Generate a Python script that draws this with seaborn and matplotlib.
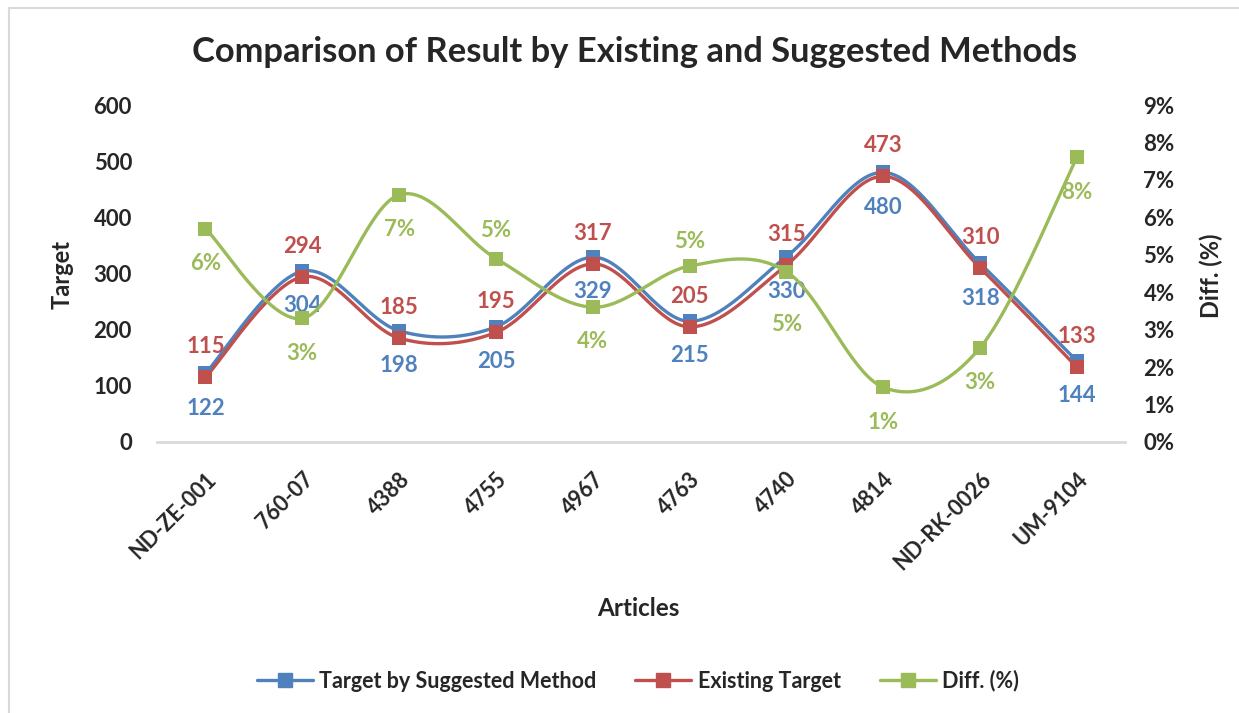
import numpy as np
import pandas as pd
import matplotlib
matplotlib.use("Agg")
import matplotlib.pyplot as plt
import seaborn as sns
from matplotlib.lines import Line2D
from matplotlib.patches import Rectangle

# data
articles = ["ND-ZE-001", "760-07", "4388", "4755", "4967", "4763", "4740", "4814", "ND-RK-0026", "UM-9104"]
suggested = [122, 304, 198, 205, 329, 215, 330, 480, 318, 144]
existing = [115, 294, 185, 195, 317, 205, 315, 473, 310, 133]
diff_pct = [5.7, 3.3, 6.6, 4.9, 3.6, 4.7, 4.55, 1.46, 2.52, 7.6]

BLUE, RED, GREEN = "#4F81BD", "#C0504D", "#9BBB59"

sns.set_style("white")
plt.rcParams["font.family"] = ["Lato", "DejaVu Sans"]
plt.rcParams["font.weight"] = "bold"


def smooth(x, y, n=40):
    """Excel-like smoothed line (Catmull-Rom as cubic Bezier)."""
    p = np.column_stack([x, y]).astype(float)
    out = []
    for i in range(len(p) - 1):
        p0 = p[i - 1] if i > 0 else p[i]
        p1, p2 = p[i], p[i + 1]
        p3 = p[i + 2] if i + 2 < len(p) else p[i + 1]
        c1 = p1 + (p2 - p0) / 6
        c2 = p2 - (p3 - p1) / 6
        t = np.linspace(0, 1, n)[:, None]
        seg = ((1 - t) ** 3) * p1 + 3 * ((1 - t) ** 2) * t * c1 + 3 * (1 - t) * t ** 2 * c2 + t ** 3 * p2
        out.append(seg if i == 0 else seg[1:])
    s = np.vstack(out)
    return s[:, 0], s[:, 1]


df = pd.DataFrame({"pos": np.arange(len(articles)), "article": articles,
                   "suggested": suggested, "existing": existing, "diff": diff_pct})

fig = plt.figure(figsize=(12.39, 7.13), dpi=100)
ax = fig.add_axes([157 / 1239, 1 - 442 / 713, (1125.4 - 157) / 1239, (442 - 105) / 713])
ax2 = ax.twinx()

lw, ms = 2.4, 9.5
for col, color in [("suggested", BLUE), ("existing", RED)]:
    sx, sy = smooth(df["pos"], df[col])
    sns.lineplot(x=sx, y=sy, ax=ax, color=color, lw=lw, sort=False, estimator=None)
    sns.scatterplot(data=df, x="pos", y=col, ax=ax, color=color, marker="s", s=ms ** 2,
                    edgecolor=color, linewidth=0, zorder=3)

sx, sy = smooth(df["pos"], df["diff"])
sns.lineplot(x=sx, y=sy, ax=ax2, color=GREEN, lw=lw, sort=False, estimator=None)
sns.scatterplot(data=df, x="pos", y="diff", ax=ax2, color=GREEN, marker="s", s=ms ** 2,
                edgecolor=GREEN, linewidth=0, zorder=3)

# data labels
lab_fs = 16
for i, r in df.iterrows():
    ax.annotate(f"{r['suggested']}", (r["pos"], r["suggested"]), xytext=(0, -25),
                textcoords="offset points", ha="center", va="center", color=BLUE,
                fontsize=lab_fs, fontweight="bold")
    ax.annotate(f"{r['existing']}", (r["pos"], r["existing"]), xytext=(0, 22),
                textcoords="offset points", ha="center", va="center", color=RED,
                fontsize=lab_fs, fontweight="bold")
green_dy = {"4755": 20, "4763": 18, "4740": -38}
for i, r in df.iterrows():
    dy = green_dy.get(r["article"], -25)
    ax2.annotate(f"{r['diff']:.0f}%", (r["pos"], r["diff"]), xytext=(0, dy),
                 textcoords="offset points", ha="center", va="center", color=GREEN,
                 fontsize=lab_fs, fontweight="bold")

ax.set_xlim(-0.5, len(articles) - 0.5)
ax.set_ylim(0, 600)
ax2.set_ylim(0, 9)
ax.set_yticks(range(0, 601, 100))
ax2.set_yticks(range(0, 10))
ax2.set_yticklabels([f"{v}%" for v in range(0, 10)])
ax.set_xticks(df["pos"])
ax.set_xticklabels(articles, rotation=45, ha="right", rotation_mode="anchor")

for a in (ax, ax2):
    for s in a.spines.values():
        s.set_visible(False)
    a.tick_params(length=0, labelsize=16)
    a.set_xlabel("")
    a.grid(False)
    a.patch.set_visible(False)
ax.spines["bottom"].set_visible(True)
ax.spines["bottom"].set_color("#D9D9D9")
ax.spines["bottom"].set_linewidth(2)
ax.tick_params(axis="y", pad=18)
ax.tick_params(axis="x", pad=19, labelsize=15.5)
ax2.tick_params(axis="y", pad=13)

ax.set_ylabel("")
ax2.set_ylabel("")
fig.text(62 / 1239, 1 - 274 / 713, "Target", rotation=90, ha="center", va="center",
         fontsize=17, fontweight="bold")
fig.text(1211 / 1239, 1 - 276 / 713, "Diff. (%)", rotation=90, ha="center", va="center",
         fontsize=17, fontweight="bold")

fig.text(635 / 1239, 1 - 52 / 713, "Comparison of Result by Existing and Suggested Methods",
         ha="center", va="center", fontsize=24.8, fontweight="bold")
fig.text(638 / 1239, 1 - 608 / 713, "Articles", ha="center", va="center",
         fontsize=17.5, fontweight="bold")

handles = [Line2D([], [], color=c, lw=lw, marker="s", markersize=ms) for c in (BLUE, RED, GREEN)]
fig.legend(handles, ["Target by Suggested Method", "Existing Target", "Diff. (%)"],
           loc="center", bbox_to_anchor=(638 / 1239, 1 - 681 / 713), ncol=3, frameon=False,
           fontsize=15.5, handlelength=2.6, columnspacing=1.8, handletextpad=0.3)

fig.patches.append(Rectangle((9 / 1239, -0.1), 2, 1.1 - 8 / 713, transform=fig.transFigure,
                             fill=False, edgecolor="#D9D9D9", lw=1.5))

fig.savefig("out.png", dpi=100)
